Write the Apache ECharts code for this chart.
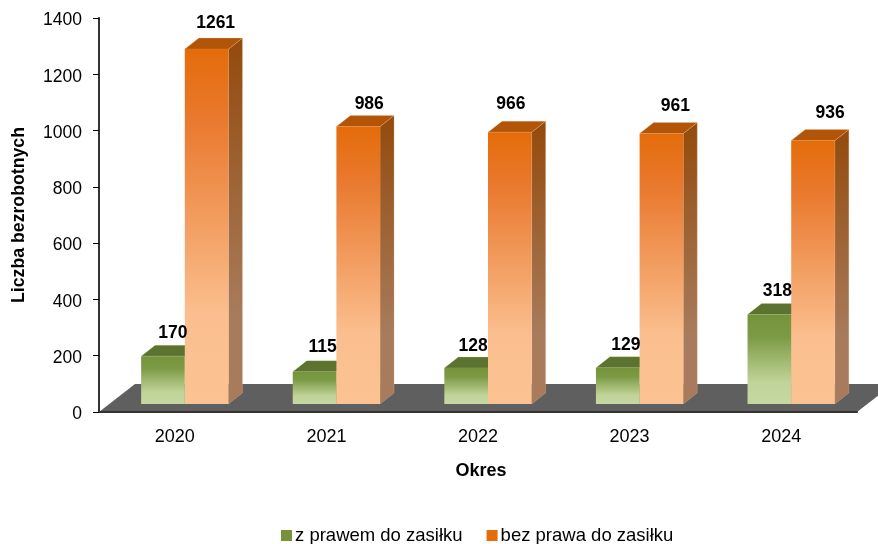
<!DOCTYPE html>
<html>
<head>
<meta charset="utf-8">
<style>
  html, body { margin: 0; padding: 0; background: #fff; }
  #chart { width: 878px; height: 544px; }
</style>
<script src="https://cdn.jsdelivr.net/npm/echarts@6/dist/echarts.min.js"></script>
</head>
<body>
<div id="chart"></div>
<script>
var categories = ['2020', '2021', '2022', '2023', '2024']
var zPrawem = [170, 115, 128, 129, 318]
var bezPrawa = [1261, 986, 966, 961, 936]
var seriesNames = ['z prawem do zasiłku', 'bez prawa do zasiłku']

// hand placed labels in the original, so each one gets a nudge
var greenLabelNudge = [10, 8, 7, 8, 8]
var orangeLabelNudge = [9, 11, 1, 14, 17]
var greenLabelLift = [23, 24, 22, 23, 23]
var orangeLabelLift = [26, 22, 28, 27, 27]

var FONT = '"Liberation Sans", Arial, sans-serif'
var DX = 14, DY = 11        // depth of the bars
var FRONT_X = 10, FRONT_Y = 8  // front plane sits off the axis plane
var BAR = 0.288             // bar width as share of band

function grad(stops) {
  return new echarts.graphic.LinearGradient(0, 0, 0, 1, stops)
}

function barItem(opts) {
  return function (params, api) {
    var i = api.value(0)
    var top = api.coord([i, api.value(1)])
    var base = api.coord([i, 0])
    var w = api.size([1, 0])[0] * BAR
    var x0 = top[0] + FRONT_X + opts.side * w
    var x1 = x0 + w
    var y0 = top[1] - FRONT_Y
    var y1 = base[1] - FRONT_Y
    return {
      type: 'group',
      children: [
        {
          type: 'polygon',
          shape: { points: [[x1, y0], [x1 + DX, y0 - DY], [x1 + DX, y1 - DY], [x1, y1]] },
          style: { fill: grad(opts.sideStops), stroke: opts.fringe, lineWidth: 1 }
        },
        {
          type: 'polygon',
          shape: { points: [[x0, y0], [x0 + DX, y0 - DY], [x1 + DX, y0 - DY], [x1, y0]] },
          style: { fill: opts.topColor, stroke: opts.fringe, lineWidth: 1 }
        },
        {
          type: 'rect',
          shape: { x: x0, y: y0, width: w, height: y1 - y0 },
          style: { fill: grad(opts.frontStops) }
        },
        {
          type: 'text',
          z2: 50,
          style: {
            x: x0 + w / 2 + opts.nudge[i],
            y: y0 - opts.lift[i],
            text: String(api.value(1)),
            font: 'bold 17.5px ' + FONT,
            fill: '#000',
            align: 'center',
            verticalAlign: 'middle'
          }
        }
      ]
    }
  }
}

function floorItem(params, api) {
  var c = params.coordSys
  var bottom = c.y + c.height
  return {
    type: 'polygon',
    shape: {
      points: [
        [c.x, bottom],
        [c.x + 36, bottom - 28],
        [c.x + c.width + 36, bottom - 28],
        [c.x + c.width, bottom]
      ]
    },
    style: { fill: '#5f5f5f' }
  }
}

var chart = echarts.init(document.getElementById('chart'))
var option = {
  animation: false,
  textStyle: { fontFamily: FONT },
  grid: { left: 99, right: 21, top: 18, bottom: 132 },
  legend: {
    data: seriesNames,
    left: 276,
    top: 521,
    itemWidth: 11,
    itemHeight: 11,
    itemGap: 24,
    icon: 'rect',
    textStyle: { fontFamily: FONT, fontSize: 18.5, color: '#000', padding: [0, 0, 0, -2] }
  },
  xAxis: {
    type: 'category',
    data: categories,
    z: 3,
    name: 'Okres',
    nameLocation: 'middle',
    nameGap: 50,
    nameTextStyle: { fontFamily: FONT, fontSize: 18, fontWeight: 'bold', color: '#000', padding: [0, 0, 0, 6] },
    axisLine: { lineStyle: { color: '#333', width: 2 } },
    axisTick: { length: 6, lineStyle: { color: '#000' } },
    axisLabel: { color: '#000', fontSize: 18, margin: 16 }
  },
  yAxis: {
    type: 'value',
    min: 0,
    max: 1400,
    interval: 200,
    z: 3,
    name: 'Liczba bezrobotnych',
    nameLocation: 'middle',
    nameGap: 71,
    nameTextStyle: { fontFamily: FONT, fontSize: 17.7, fontWeight: 'bold', color: '#000' },
    splitLine: { show: false },
    axisLine: { show: true, lineStyle: { color: '#333', width: 2 } },
    axisTick: { show: true, length: 6, lineStyle: { color: '#000' } },
    axisLabel: {
      color: '#000',
      fontSize: 17.5,
      margin: 17,
      verticalAlign: 'top',
      lineHeight: 5,
      formatter: function (v) { return String(v) }
    }
  },
  series: [
    {
      name: 'floor',
      type: 'custom',
      z: 1,
      silent: true,
      renderItem: floorItem,
      data: [[0, 0]]
    },
    {
      name: seriesNames[0],
      type: 'custom',
      itemStyle: { color: '#76933c' },
      renderItem: barItem({
        side: -1,
        nudge: greenLabelNudge,
        lift: greenLabelLift,
        topColor: '#5c732f',
        fringe: 'rgba(195,215,155,0.25)',
        sideStops: [{ offset: 0, color: '#5c732f' }, { offset: 1, color: '#8b9e6b' }],
        frontStops: [
          { offset: 0, color: '#76933c' },
          { offset: 0.25, color: '#7c9a44' },
          { offset: 0.75, color: '#c0d398' },
          { offset: 1, color: '#c5d8a0' }
        ]
      }),
      encode: { x: 0, y: 1 },
      data: zPrawem.map(function (v, i) { return [i, v] })
    },
    {
      name: seriesNames[1],
      type: 'custom',
      itemStyle: { color: '#e46c0a' },
      renderItem: barItem({
        side: 0,
        nudge: orangeLabelNudge,
        lift: orangeLabelLift,
        topColor: '#b25509',
        fringe: 'rgba(252,194,146,0.25)',
        sideStops: [
          { offset: 0, color: '#934a0c' },
          { offset: 0.75, color: '#a77b5b' },
          { offset: 1, color: '#a77b5b' }
        ],
        frontStops: [
          { offset: 0, color: '#e46c0a' },
          { offset: 0.2, color: '#e9792e' },
          { offset: 0.75, color: '#fbbf8f' },
          { offset: 1, color: '#fcc292' }
        ]
      }),
      encode: { x: 0, y: 1 },
      data: bezPrawa.map(function (v, i) { return [i, v] })
    }
  ]
}
chart.setOption(option)
</script>
</body>
</html>
